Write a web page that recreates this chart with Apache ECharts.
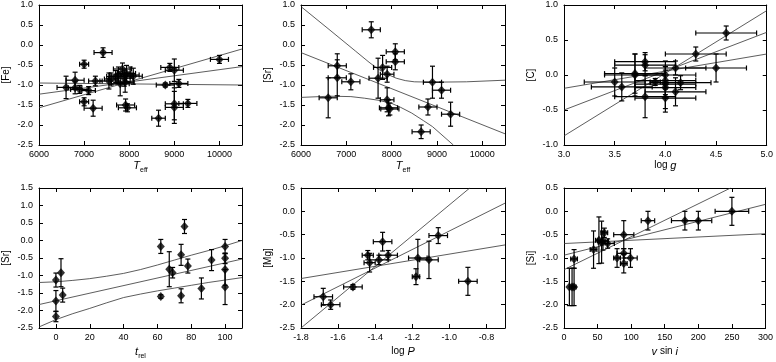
<!DOCTYPE html>
<html>
<head>
<meta charset="utf-8">
<script src="https://cdn.jsdelivr.net/npm/echarts@6/dist/echarts.min.js"></script>
<style>
  html, body { margin: 0; padding: 0; background: #fff; }
  #chart { width: 776px; height: 362px; }
</style>
</head>
<body>
<div id="chart"></div>
<script>
// 面板 1: [Fe] - Teff
var feTeff = [6600, 6800, 6800, 6900, 7000, 7000, 7100, 7200, 7250, 7420, 7550, 7600, 7700, 7760, 7800, 7850, 7890, 7910, 7940, 7920, 7960, 8020, 8090, 8650, 8800, 8900, 9000, 9000, 9000, 9100, 9300, 10000];
var feVal = [-1.06, -0.88, -1.07, -1.11, -0.48, -1.42, -1.14, -1.58, -0.9, -0.19, -0.9, -0.85, -0.79, -0.75, -0.97, -0.6, -0.83, -0.93, -0.71, -1.5, -1.57, -0.75, -0.78, -1.83, -1.0, -0.56, -0.63, -1.47, -1.56, -0.96, -1.46, -0.36];
var feTeffErr = [200, 200, 150, 200, 100, 100, 150, 200, 150, 200, 200, 150, 200, 200, 200, 200, 200, 200, 200, 200, 200, 200, 200, 150, 200, 200, 200, 200, 200, 200, 200, 200];
var feValErr = [0.28, 0.2, 0.15, 0.1, 0.1, 0.1, 0.1, 0.2, 0.12, 0.12, 0.2, 0.15, 0.15, 0.2, 0.3, 0.15, 0.2, 0.25, 0.2, 0.15, 0.1, 0.2, 0.2, 0.2, 0.05, 0.1, 0.28, 0.4, 0.4, 0.1, 0.1, 0.1];
var feFitA = [[6000, -0.95], [10500, -1.0]];
var feFitB = [[6000, -1.23], [10500, -0.54]];
var feFitC = [[6000, -1.57], [10500, -0.1]];

// 面板 2: [Sr] - Teff
var srTeff = [6600, 6800, 6800, 7100, 7550, 7700, 7800, 7900, 7900, 7930, 7960, 8080, 8080, 8900, 9100, 8800, 9300, 8650];
var srVal = [-1.32, -0.52, -0.82, -0.92, 0.38, -0.83, -0.56, -0.73, -1.37, -1.57, -1.6, -0.17, -0.42, -0.93, -1.13, -1.55, -1.73, -2.17];
var srTeffErr = [200, 200, 200, 200, 200, 200, 200, 150, 150, 200, 200, 200, 200, 200, 200, 200, 200, 200];
var srValErr = [0.5, 0.3, 0.45, 0.2, 0.2, 0.5, 0.3, 0.2, 0.3, 0.2, 0.15, 0.2, 0.2, 0.4, 0.2, 0.2, 0.3, 0.17];
var srFitUp = [[6000, 0.96], [6640, 0.37], [7200, -0.15], [7500, -0.43], [7700, -0.6], [7900, -0.73], [8100, -0.83], [8300, -0.89], [8500, -0.92], [8900, -0.93], [9650, -0.92], [10500, -0.88]];
var srFitMid = [[6000, -0.19], [10500, -2.22]];
var srFitLow = [[6000, -1.31], [6640, -1.28], [7100, -1.29], [7400, -1.33], [7700, -1.38], [8000, -1.46], [8200, -1.56], [8440, -1.7], [8700, -1.89], [8900, -2.04], [9360, -2.5]];

// 面板 3: [C] - log g
var cLogg = [3.5, 3.57, 3.7, 3.7, 3.8, 3.8, 3.8, 3.9, 4.0, 4.0, 4.0, 4.0, 4.0, 4.1, 4.1, 4.15, 4.3, 4.5, 4.6];
var cVal = [-0.1, -0.17, 0.02, 0.0, 0.19, 0.14, -0.31, -0.1, 0.0, -0.08, -0.13, -0.18, -0.33, 0.1, -0.24, -0.11, 0.3, 0.1, 0.6];
var cLoggErr = [0.3, 0.3, 0.3, 0.3, 0.3, 0.3, 0.3, 0.05, 0.3, 0.3, 0.3, 0.3, 0.3, 0.3, 0.3, 0.3, 0.3, 0.3, 0.3];
var cValErr = [0.2, 0.2, 0.28, 0.3, 0.13, 0.15, 0.3, 0.05, 0.2, 0.2, 0.2, 0.3, 0.2, 0.1, 0.2, 0.1, 0.1, 0.2, 0.1];
var cFitA = [[3.0, -0.19], [5.0, 0.3]];
var cFitB = [[3.0, -0.5], [5.0, 0.61]];
var cFitC = [[3.0, -0.87], [5.0, 0.92]];

// 面板 4: [Sr] - t_rel
var srTrel = [0, 0, 0, 3, 4, 62, 62, 67, 69, 74, 74, 76, 78, 86, 92, 100, 100, 100, 100];
var srTrelVal = [-1.13, -1.73, -2.17, -0.92, -1.56, -0.17, -1.6, -0.82, -0.92, -0.41, -1.58, 0.4, -0.73, -1.37, -0.56, -0.17, -0.51, -0.83, -1.33];
var srTrelValErr = [0.2, 0.3, 0.15, 0.4, 0.2, 0.2, 0.05, 0.5, 0.15, 0.3, 0.2, 0.2, 0.2, 0.3, 0.3, 0.2, 0.15, 0.45, 0.5];
var trelFitUp = [[-10, -1.2], [0, -1.18], [10, -1.14], [20, -1.09], [30, -1.02], [40, -0.94], [50, -0.83], [60, -0.7], [70, -0.56], [80, -0.42], [90, -0.29], [100, -0.15], [110, 0.0]];
var trelFitMid = [[-10, -1.83], [110, -0.53]];
var trelFitLow = [[-10, -2.47], [0, -2.26], [10, -2.09], [20, -1.94], [30, -1.78], [40, -1.63], [50, -1.53], [60, -1.44], [70, -1.36], [80, -1.28], [90, -1.2], [100, -1.13], [110, -1.06]];

// 面板 5: [Mg] - log P
var mgLogP = [-1.68, -1.64, -1.52, -1.44, -1.43, -1.38, -1.36, -1.33, -1.18, -1.17, -1.11, -1.06, -0.9];
var mgVal = [-1.83, -2.0, -1.62, -0.94, -1.1, -1.04, -0.65, -0.94, -1.4, -1.0, -1.04, -0.52, -1.5];
var mgLogPErr = [0.05, 0.05, 0.05, 0.03, 0.03, 0.05, 0.05, 0.05, 0.02, 0.05, 0.05, 0.05, 0.05];
var mgValErr = [0.18, 0.1, 0.05, 0.1, 0.2, 0.1, 0.2, 0.1, 0.17, 0.4, 0.4, 0.17, 0.3];
var mgFitA = [[-1.8, -2.5], [-0.89, 0.5]];
var mgFitB = [[-1.8, -2.01], [-0.7, 0.175]];
var mgFitC = [[-1.8, -1.44], [-0.7, -0.72]];

// 面板 6: [Si] - v sin i
var siVsini = [8, 12, 15, 15, 44, 52, 56, 58, 60, 65, 79, 89, 89, 89, 99, 125, 180, 200, 250];
var siVal = [-1.62, -1.62, -1.62, -1.02, -0.82, -0.62, -0.66, -0.63, -0.46, -0.69, -1.0, -0.5, -0.9, -1.12, -1.0, -0.2, -0.2, -0.2, 0.0];
var siVsiniErr = [0, 0, 3, 5, 5, 5, 5, 8, 5, 10, 5, 15, 10, 5, 10, 10, 20, 20, 25];
var siValErr = [0.4, 0.4, 0.4, 0.2, 0.4, 0.5, 0.45, 0.2, 0.1, 0.1, 0.2, 0.3, 0.1, 0.2, 0.2, 0.2, 0.2, 0.2, 0.3];
var siFitA = [[0, -0.69], [300, -0.48]];
var siFitB = [[0, -0.94], [300, 0.15]];
var siFitC = [[0, -1.25], [248, 0.5]];

// 刻度
var teffTicks = [6000, 7000, 8000, 9000, 10000];
var loggTicks = [3.0, 3.5, 4.0, 4.5, 5.0];
var trelTicks = [0, 20, 40, 60, 80, 100];
var logPTicks = [-1.8, -1.6, -1.4, -1.2, -1.0, -0.8];
var vsiniTicks = [0, 50, 100, 150, 200, 250, 300];
var yTicksTop = [-2.5, -2.0, -1.5, -1.0, -0.5, 0.0, 0.5, 1.0];
var yTicksC = [-1.0, -0.5, 0.0, 0.5, 1.0];
var yTicksTrel = [-2.5, -2.0, -1.5, -1.0, -0.5, 0.0, 0.5, 1.0, 1.5];
var yTicksLow = [-2.5, -2.0, -1.5, -1.0, -0.5, 0.0, 0.5];

var FONT = 'Liberation Sans, Arial, Helvetica, sans-serif';

function zipErr(xs, ys, exs, eys) {
    return xs.map(function (x, i) {
        return [x, ys[i], exs ? exs[i] : 0, eys[i]];
    });
}

function renderErr(params, api) {
    var x = api.value(0), y = api.value(1), ex = api.value(2), ey = api.value(3);
    var cap = 2.5;
    var st = { stroke: '#000', lineWidth: 1.2 };
    var kids = [];
    if (ey > 0) {
        var a = api.coord([x, y + ey]), b = api.coord([x, y - ey]);
        kids.push({ type: 'line', shape: { x1: a[0], y1: a[1], x2: b[0], y2: b[1] }, style: st });
        kids.push({ type: 'line', shape: { x1: a[0] - cap, y1: a[1], x2: a[0] + cap, y2: a[1] }, style: st });
        kids.push({ type: 'line', shape: { x1: b[0] - cap, y1: b[1], x2: b[0] + cap, y2: b[1] }, style: st });
    }
    if (ex > 0) {
        var l = api.coord([x - ex, y]), r = api.coord([x + ex, y]);
        kids.push({ type: 'line', shape: { x1: l[0], y1: l[1], x2: r[0], y2: r[1] }, style: st });
        kids.push({ type: 'line', shape: { x1: l[0], y1: l[1] - cap, x2: l[0], y2: l[1] + cap }, style: st });
        kids.push({ type: 'line', shape: { x1: r[0], y1: r[1] - cap, x2: r[0], y2: r[1] + cap }, style: st });
    }
    return { type: 'group', children: kids };
}

var richName = {
    it: { fontStyle: 'italic', fontSize: 11, lineHeight: 17, fontFamily: FONT, color: '#000' },
    n: { fontSize: 10, lineHeight: 17, fontFamily: FONT, color: '#000' },
    sub: { fontSize: 7, lineHeight: 7, verticalAlign: 'bottom', fontFamily: FONT, color: '#000' }
};

var panels = [
    { rect: [38, 5, 204, 140], xr: [6000, 10500], xt: teffTicks, xd: 0, xn: '{it|T}{sub|eff}',
      yr: [-2.5, 1.0], yt: yTicksTop, yn: '[Fe]',
      err: zipErr(feTeff, feVal, feTeffErr, feValErr),
      fits: [feFitA, feFitB, feFitC] },
    { rect: [301, 5, 204, 140], xr: [6000, 10500], xt: teffTicks, xd: 0, xn: '{it|T}{sub|eff}',
      yr: [-2.5, 1.0], yt: yTicksTop, yn: '[Sr]',
      err: zipErr(srTeff, srVal, srTeffErr, srValErr),
      fits: [srFitUp, srFitMid, srFitLow] },
    { rect: [564, 5, 204, 140], xr: [3.0, 5.0], xt: loggTicks, xd: 1, xn: '{n|log }{it|g}',
      yr: [-1.0, 1.0], yt: yTicksC, yn: '[C]',
      err: zipErr(cLogg, cVal, cLoggErr, cValErr),
      fits: [cFitA, cFitB, cFitC] },
    { rect: [38, 188, 204, 140], xr: [-10, 110], xt: trelTicks, xd: 0, xn: '{it|t}{sub|rel}',
      yr: [-2.5, 1.5], yt: yTicksTrel, yn: '[Sr]',
      err: zipErr(srTrel, srTrelVal, null, srTrelValErr),
      fits: [trelFitUp, trelFitMid, trelFitLow] },
    { rect: [301, 188, 204, 140], xr: [-1.8, -0.7], xt: logPTicks, xd: 1, xn: '{n|log }{it|P}',
      yr: [-2.5, 0.5], yt: yTicksLow, yn: '[Mg]',
      err: zipErr(mgLogP, mgVal, mgLogPErr, mgValErr),
      fits: [mgFitA, mgFitB, mgFitC] },
    { rect: [564, 188, 204, 140], xr: [0, 300], xt: vsiniTicks, xd: 0, xn: '{it|v}{n| sin }{it|i}',
      yr: [-2.5, 0.5], yt: yTicksLow, yn: '[Si]',
      err: zipErr(siVsini, siVal, siVsiniErr, siValErr),
      fits: [siFitA, siFitB, siFitC] }
];

var grids = [], xAxes = [], yAxes = [], series = [];

panels.forEach(function (p, i) {
    grids.push({ left: p.rect[0], top: p.rect[1], width: p.rect[2], height: p.rect[3], show: false });
    var line = { show: true, onZero: false, lineStyle: { color: '#000', width: 1 } };
    var tickX = { inside: true, length: 4, customValues: p.xt, lineStyle: { color: '#000', width: 1 } };
    var tickY = { inside: true, length: 4, customValues: p.yt, lineStyle: { color: '#000', width: 1 } };
    xAxes.push({
        gridIndex: i, type: 'value', position: 'bottom', min: p.xr[0], max: p.xr[1],
        axisLine: line, axisTick: tickX, splitLine: { show: false },
        axisLabel: { customValues: p.xt, color: '#000', fontSize: 9, fontFamily: FONT, margin: 5,
            formatter: (function (d) { return function (v) { return v.toFixed(d); }; })(p.xd) },
        name: p.xn, nameLocation: 'middle', nameGap: i < 3 ? 12 : 15,
        nameTextStyle: { color: '#000', fontSize: 10, fontFamily: FONT, rich: richName }
    });
    xAxes.push({
        gridIndex: i, type: 'value', position: 'top', min: p.xr[0], max: p.xr[1],
        axisLine: line, axisTick: tickX, splitLine: { show: false }, axisLabel: { show: false }
    });
    yAxes.push({
        gridIndex: i, type: 'value', position: 'left', min: p.yr[0], max: p.yr[1],
        axisLine: line, axisTick: tickY, splitLine: { show: false },
        axisLabel: { customValues: p.yt, color: '#000', fontSize: 9, fontFamily: FONT, margin: 6,
            formatter: function (v) { return v.toFixed(1); } },
        name: p.yn, nameLocation: 'middle', nameGap: 28, nameRotate: 90,
        nameTextStyle: { color: '#000', fontSize: 10, fontFamily: FONT }
    });
    yAxes.push({
        gridIndex: i, type: 'value', position: 'right', min: p.yr[0], max: p.yr[1],
        axisLine: line, axisTick: tickY, splitLine: { show: false }, axisLabel: { show: false }
    });

    p.fits.forEach(function (f) {
        series.push({
            type: 'line', xAxisIndex: 2 * i, yAxisIndex: 2 * i, data: f,
            smooth: false, showSymbol: false, symbol: 'none',
            silent: true, z: 1, lineStyle: { color: '#333', width: 0.8 }
        });
    });
    series.push({
        type: 'custom', xAxisIndex: 2 * i, yAxisIndex: 2 * i, data: p.err,
        renderItem: renderErr, encode: { x: 0, y: 1 }, silent: true, z: 2
    });
    series.push({
        type: 'scatter', xAxisIndex: 2 * i, yAxisIndex: 2 * i,
        data: p.err.map(function (r) { return [r[0], r[1]]; }),
        symbol: 'diamond', symbolSize: [8, 9], itemStyle: { color: '#000' }, silent: true, z: 3
    });
});

var chart = echarts.init(document.getElementById('chart'));
chart.setOption({
    backgroundColor: '#fff',
    animation: false,
    grid: grids,
    xAxis: xAxes,
    yAxis: yAxes,
    series: series
});
</script>
</body>
</html>
